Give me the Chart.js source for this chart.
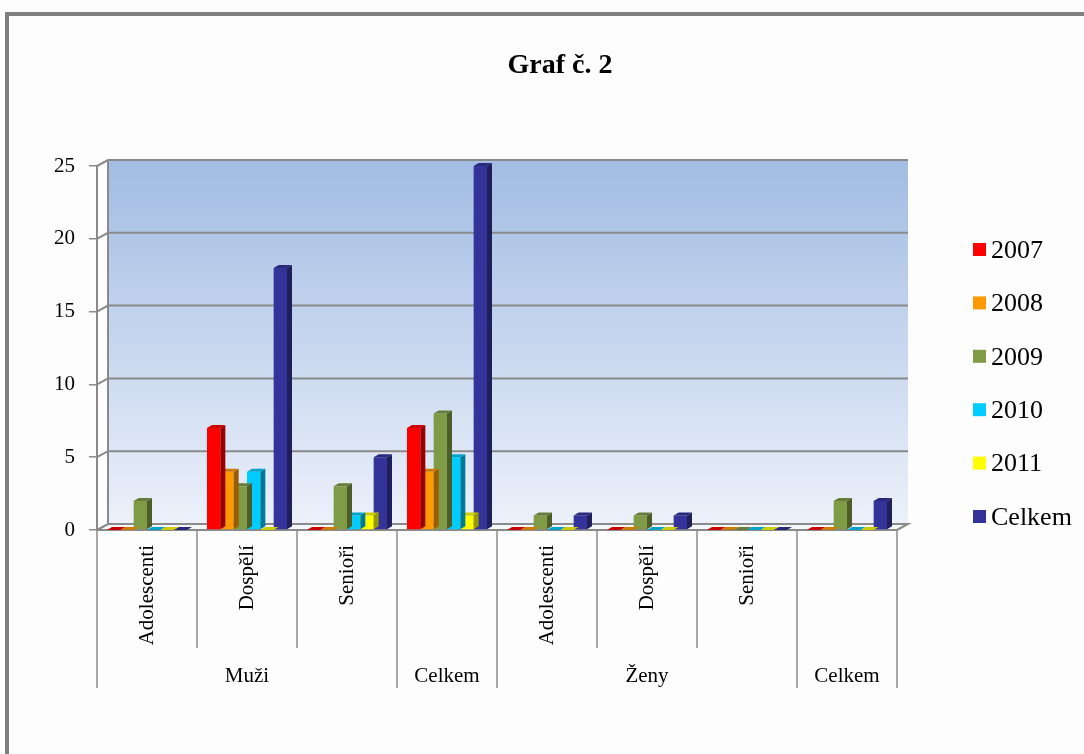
<!DOCTYPE html>
<html>
<head>
<meta charset="utf-8">
<script src="https://cdn.jsdelivr.net/npm/chart.js@4/dist/chart.umd.min.js"></script>
<style>
  body { margin: 0; background: #ffffff; }
  #wrap { position: relative; width: 1084px; height: 754px; }
</style>
</head>
<body>
<div id="wrap"><canvas id="graf2" width="1084" height="754"></canvas></div>
<script>
// categories (lower row) and their groups (upper row)
const categories = ["Adolescenti", "Dospělí", "Senioři", "", "Adolescenti", "Dospělí", "Senioři", ""];
const groupLabels = ["Muži", "Celkem", "Ženy", "Celkem"];
const groupSpans = [3, 1, 3, 1];

const seriesNames = ["2007", "2008", "2009", "2010", "2011", "Celkem"];
const values2007 = [0, 7, 0, 7, 0, 0, 0, 0];
const values2008 = [0, 4, 0, 4, 0, 0, 0, 0];
const values2009 = [2, 3, 3, 8, 1, 1, 0, 2];
const values2010 = [0, 4, 1, 5, 0, 0, 0, 0];
const values2011 = [0, 0, 1, 1, 0, 0, 0, 0];
const valuesCelkem = [0, 18, 5, 25, 1, 1, 0, 2];

const yTicks = [0, 5, 10, 15, 20, 25];

const barColors = ["#ff0000", "#ff9900", "#7f9b46", "#00ccff", "#ffff00", "#333399"];

const SERIF = "'Liberation Serif', 'DejaVu Serif', serif";
const DX = 11, DY = -6;   // depth of the back wall
const BX = 5, BY = -3;    // depth of each bar

function shade(hex, f) {
    let n = parseInt(hex.slice(1), 16);
    let r = Math.round(((n >> 16) & 255) * f);
    let g = Math.round(((n >> 8) & 255) * f);
    let b = Math.round((n & 255) * f);
    return `rgb(${Math.min(r, 255)},${Math.min(g, 255)},${Math.min(b, 255)})`;
}

// back wall, floor and gridlines
const wallPlugin = {
    id: "wall",
    beforeDraw(chart) {
        const ctx = chart.ctx;
        const a = chart.chartArea;
        const y = chart.scales.y;

        ctx.save();
        ctx.fillStyle = "#fdfdfd";
        ctx.fillRect(0, 0, chart.width, chart.height);
        ctx.strokeStyle = "#808080";
        ctx.lineWidth = 4;
        ctx.strokeRect(7, 14, chart.width + 50, chart.height + 50);

        let grad = ctx.createLinearGradient(0, a.top + DY, 0, a.bottom + DY);
        grad.addColorStop(0, "#a2bce3");
        grad.addColorStop(1, "#ecf1fa");
        ctx.fillStyle = grad;
        ctx.fillRect(a.left + DX, a.top + DY, a.right - a.left, a.bottom - a.top);

        // floor
        ctx.fillStyle = "#f4f6fa";
        ctx.beginPath();
        ctx.moveTo(a.left, a.bottom);
        ctx.lineTo(a.right, a.bottom);
        ctx.lineTo(a.right + DX, a.bottom + DY);
        ctx.lineTo(a.left + DX, a.bottom + DY);
        ctx.closePath();
        ctx.fill();

        ctx.strokeStyle = "#8a8a8a";
        ctx.lineWidth = 2;
        yTicks.forEach(t => {
            let py = y.getPixelForValue(t);
            ctx.beginPath();
            ctx.moveTo(a.left, py);
            ctx.lineTo(a.left + DX, py + DY);
            ctx.lineTo(a.right + DX, py + DY);
            if (t === 0) ctx.lineTo(a.right, py);
            ctx.stroke();
        });
        ctx.beginPath();
        ctx.moveTo(a.left + DX, a.top + DY);
        ctx.lineTo(a.left + DX, a.bottom + DY);
        ctx.stroke();
        ctx.beginPath();
        ctx.moveTo(a.left, a.top);
        ctx.lineTo(a.left, a.bottom);
        ctx.lineTo(a.right, a.bottom);
        ctx.stroke();
        ctx.restore();
    }
};

// side and top faces of each bar
const barDepthPlugin = {
    id: "barDepth",
    afterDatasetDraw(chart, args) {
        const ctx = chart.ctx;
        const color = barColors[args.index];
        ctx.save();
        args.meta.data.forEach(bar => {
            let left = bar.x - bar.width / 2;
            let right = bar.x + bar.width / 2;
            ctx.fillStyle = shade(color, 0.6);
            ctx.beginPath();
            ctx.moveTo(right, bar.y);
            ctx.lineTo(right + BX, bar.y + BY);
            ctx.lineTo(right + BX, bar.base + BY);
            ctx.lineTo(right, bar.base);
            ctx.closePath();
            ctx.fill();
            ctx.fillStyle = shade(color, 0.8);
            ctx.beginPath();
            ctx.moveTo(left, bar.y);
            ctx.lineTo(left + BX, bar.y + BY);
            ctx.lineTo(right + BX, bar.y + BY);
            ctx.lineTo(right, bar.y);
            ctx.closePath();
            ctx.fill();
        });
        ctx.restore();
    }
};

// title, two-level category axis and legend
const labelsPlugin = {
    id: "labels",
    afterDraw(chart) {
        const ctx = chart.ctx;
        const a = chart.chartArea;
        const x = chart.scales.x;
        const step = (a.right - a.left) / categories.length;

        ctx.save();
        ctx.fillStyle = "#000000";
        ctx.font = `bold 28px ${SERIF}`;
        ctx.textAlign = "center";
        ctx.textBaseline = "middle";
        ctx.fillText("Graf č. 2", 560, 66);

        // dividers
        ctx.strokeStyle = "#8a8a8a";
        ctx.lineWidth = 1.5;
        let bounds = [0];
        groupSpans.reduce((s, n) => { bounds.push(s + n); return s + n; }, 0);
        for (let i = 0; i <= categories.length; i++) {
            let px = a.left + i * step;
            ctx.beginPath();
            ctx.moveTo(px, a.bottom);
            ctx.lineTo(px, bounds.includes(i) ? 688 : 648);
            ctx.stroke();
        }

        ctx.font = `21px ${SERIF}`;
        categories.forEach((c, i) => {
            ctx.save();
            ctx.translate(x.getPixelForValue(i), 545);
            ctx.rotate(-Math.PI / 2);
            ctx.textAlign = "right";
            ctx.textBaseline = "middle";
            ctx.fillText(c, 0, 0);
            ctx.restore();
        });

        groupLabels.forEach((g, i) => {
            let cx = a.left + (bounds[i] + bounds[i + 1]) / 2 * step;
            ctx.fillText(g, cx, 676);
        });

        // legend
        ctx.font = `26px ${SERIF}`;
        ctx.textAlign = "left";
        seriesNames.forEach((s, i) => {
            let ly = 250 + i * 53.4;
            ctx.fillStyle = barColors[i];
            ctx.fillRect(973, ly - 7, 13, 13);
            ctx.fillStyle = "#000000";
            ctx.fillText(s, 991, ly + 1);
        });
        ctx.restore();
    }
};

const seriesValues = [values2007, values2008, values2009, values2010, values2011, valuesCelkem];

new Chart(document.getElementById("graf2"), {
    type: "bar",
    data: {
        labels: categories,
        datasets: seriesNames.map((name, i) => ({
            label: name,
            data: seriesValues[i],
            backgroundColor: barColors[i],
            borderWidth: 0
        }))
    },
    options: {
        responsive: false,
        animation: false,
        layout: { padding: { top: 166, right: 187, bottom: 0, left: 0 } },
        datasets: { bar: { categoryPercentage: 0.8, barPercentage: 1.0 } },
        plugins: {
            legend: { display: false },
            title: { display: false },
            tooltip: { enabled: false }
        },
        scales: {
            x: {
                ticks: { display: false },
                grid: { display: false },
                border: { display: false },
                afterFit: scale => { scale.height = 224; }
            },
            y: {
                min: 0,
                max: 25,
                ticks: {
                    stepSize: 5,
                    color: "#000000",
                    font: { family: SERIF, size: 21 },
                    padding: 14
                },
                grid: {
                    drawOnChartArea: false,
                    tickLength: 8,
                    color: "#8a8a8a",
                    lineWidth: 1.5
                },
                border: { display: false },
                afterFit: scale => { scale.width = 97; }
            }
        }
    },
    plugins: [wallPlugin, barDepthPlugin, labelsPlugin]
});
</script>
</body>
</html>
